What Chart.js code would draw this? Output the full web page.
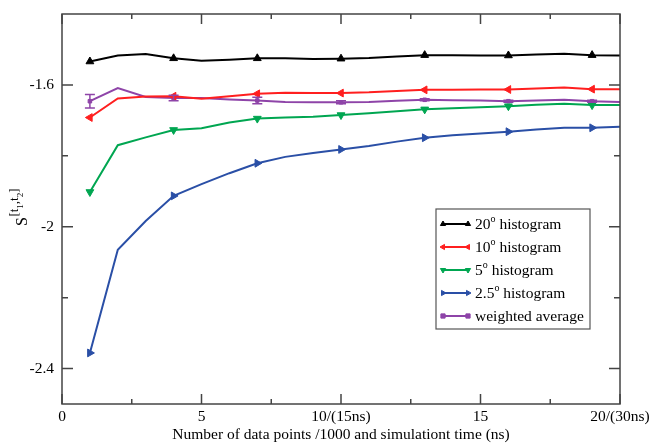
<!DOCTYPE html>
<html lang="en">
<head>
<meta charset="UTF-8">
<title>S[t1,t2] convergence</title>
<script src="https://cdn.jsdelivr.net/npm/chart.js"></script>
<style>
  body { margin: 0; background: #fff; }
</style>
</head>
<body>
<canvas id="convChart" width="651" height="444"></canvas>
<script>
// x = number of data points / 1000
const xValues = [1, 2, 3, 4, 5, 6, 7, 8, 9, 10, 11, 12, 13, 14, 15, 16, 17, 18, 19, 20];
const markerX = [1, 4, 7, 10, 13, 16, 19];

const hist20 = [-1.534, -1.517, -1.513, -1.525, -1.532, -1.529, -1.525, -1.525, -1.527, -1.526,
                -1.524, -1.520, -1.516, -1.516, -1.517, -1.517, -1.514, -1.512, -1.516, -1.517];
const hist10 = [-1.692, -1.638, -1.633, -1.632, -1.639, -1.632, -1.625, -1.622, -1.623, -1.623,
                -1.621, -1.617, -1.614, -1.614, -1.613, -1.613, -1.610, -1.607, -1.612, -1.612];
const hist5 = [-1.902, -1.770, -1.748, -1.727, -1.722, -1.706, -1.695, -1.692, -1.690, -1.685,
               -1.680, -1.674, -1.669, -1.666, -1.663, -1.660, -1.656, -1.653, -1.657, -1.657];
const hist25 = [-2.356, -2.065, -1.984, -1.913, -1.880, -1.849, -1.821, -1.803, -1.792, -1.782,
                -1.772, -1.760, -1.749, -1.742, -1.737, -1.732, -1.726, -1.721, -1.721, -1.718];
const weighted = [-1.646, -1.609, -1.634, -1.637, -1.637, -1.641, -1.644, -1.648, -1.649, -1.649,
                  -1.648, -1.645, -1.642, -1.643, -1.644, -1.646, -1.644, -1.642, -1.646, -1.648];
const weightedErr = [0.019, 0, 0, 0.008, 0, 0, 0.009, 0, 0, 0.004,
                     0, 0, 0.003, 0, 0, 0.003, 0, 0, 0.003, 0];

const xMajorTicks = [0, 5, 10, 15, 20];
const xMinorTicks = [2.5, 7.5, 12.5, 17.5];
const xTickLabels = ['0', '5', '10/(15ns)', '15', '20/(30ns)'];
const yMajorTicks = [-1.6, -2, -2.4];
const yMinorTicks = [-1.8, -2.2];
const yTickLabels = ['-1.6', '-2', '-2.4'];

const seriesNames = ['20', '10', '5', '2.5', 'weighted average'];
const seriesColors = ['#000000', '#ff1f1f', '#00a651', '#2a4fa6', '#8e44a8'];

const serif = '"Liberation Serif", "DejaVu Serif", serif';

function markerRadius(ctx) {
    return markerX.includes(xValues[ctx.dataIndex]) ? 4.5 : 0;
}

function makeSeries(values, color, style, rotation) {
    return {
        data: values.map((v, i) => ({ x: xValues[i], y: v })),
        borderColor: color,
        backgroundColor: color,
        borderWidth: 2,
        pointStyle: style,
        rotation: rotation,
        pointRadius: markerRadius,
        pointHoverRadius: markerRadius,
        pointBorderWidth: 1,
        tension: 0
    };
}

// frame with inward ticks on all four sides
const frameTicks = {
    id: 'frameTicks',
    afterDraw(chart) {
        const { ctx, chartArea: a, scales: { x, y } } = chart;
        ctx.save();
        ctx.strokeStyle = '#444';
        ctx.lineWidth = 1.5;
        ctx.strokeRect(a.left, a.top, a.right - a.left, a.bottom - a.top);
        ctx.beginPath();
        const xt = (v, len) => {
            const px = x.getPixelForValue(v);
            ctx.moveTo(px, a.bottom); ctx.lineTo(px, a.bottom - len);
            ctx.moveTo(px, a.top); ctx.lineTo(px, a.top + len);
        };
        const yt = (v, len) => {
            const py = y.getPixelForValue(v);
            ctx.moveTo(a.left, py); ctx.lineTo(a.left + len, py);
            ctx.moveTo(a.right, py); ctx.lineTo(a.right - len, py);
        };
        xMajorTicks.forEach(v => xt(v, 10));
        xMinorTicks.forEach(v => xt(v, 5));
        yMajorTicks.forEach(v => yt(v, 11));
        yMinorTicks.forEach(v => yt(v, 6));
        ctx.stroke();
        ctx.restore();
    }
};

// error bars on the weighted average
const errorBars = {
    id: 'errorBars',
    afterDatasetsDraw(chart) {
        const { ctx, scales: { x, y } } = chart;
        ctx.save();
        ctx.strokeStyle = seriesColors[4];
        ctx.lineWidth = 1.5;
        ctx.beginPath();
        weightedErr.forEach((e, i) => {
            if (!e) return;
            const px = x.getPixelForValue(xValues[i]);
            const y1 = y.getPixelForValue(weighted[i] + e);
            const y2 = y.getPixelForValue(weighted[i] - e);
            ctx.moveTo(px, y1); ctx.lineTo(px, y2);
            ctx.moveTo(px - 5, y1); ctx.lineTo(px + 5, y1);
            ctx.moveTo(px - 5, y2); ctx.lineTo(px + 5, y2);
        });
        ctx.stroke();
        ctx.restore();
    }
};

function drawMarker(ctx, style, rot, cx, cy, color) {
    ctx.save();
    ctx.fillStyle = color;
    ctx.strokeStyle = color;
    ctx.lineWidth = 1;
    Chart.helpers.drawPoint(ctx, { pointStyle: style, rotation: rot, radius: 3, borderWidth: 1 }, cx, cy);
    ctx.restore();
}

// boxed legend with superscript degree marks
const boxLegend = {
    id: 'boxLegend',
    afterDraw(chart) {
        const ctx = chart.ctx;
        const bx = 436, by = 209, bw = 154, bh = 120;
        ctx.save();
        ctx.fillStyle = '#fff';
        ctx.fillRect(bx, by, bw, bh);
        ctx.strokeStyle = '#555';
        ctx.lineWidth = 1.2;
        ctx.strokeRect(bx, by, bw, bh);
        ctx.textBaseline = 'alphabetic';
        chart.data.datasets.forEach((ds, i) => {
            const cy = by + 15 + i * 23;
            ctx.strokeStyle = ds.borderColor;
            ctx.lineWidth = 2;
            ctx.beginPath();
            ctx.moveTo(442, cy); ctx.lineTo(469, cy);
            ctx.stroke();
            if (i < 4) {
                drawMarker(ctx, ds.pointStyle, ds.rotation, 443, cy, ds.borderColor);
                drawMarker(ctx, ds.pointStyle, ds.rotation, 468, cy, ds.borderColor);
            } else {
                drawMarker(ctx, 'rect', 0, 443, cy, ds.borderColor);
                drawMarker(ctx, 'rect', 0, 468, cy, ds.borderColor);
            }
            ctx.fillStyle = '#000';
            const base = cy + 5;
            let tx = 475;
            if (i < 4) {
                ctx.font = '15.5px ' + serif;
                ctx.fillText(seriesNames[i], tx, base);
                tx += ctx.measureText(seriesNames[i]).width;
                ctx.font = '10px ' + serif;
                ctx.fillText('o', tx, base - 7);
                tx += ctx.measureText('o').width;
                ctx.font = '15.5px ' + serif;
                ctx.fillText(' histogram', tx, base);
            } else {
                ctx.font = '15.5px ' + serif;
                ctx.fillText(seriesNames[i], tx, base);
            }
        });
        ctx.restore();
    }
};

// rotated y title S^[t1,t2]
const yTitle = {
    id: 'yTitle',
    afterDraw(chart) {
        const ctx = chart.ctx;
        ctx.save();
        ctx.translate(27, 226);
        ctx.rotate(-Math.PI / 2);
        ctx.fillStyle = '#000';
        ctx.textBaseline = 'alphabetic';
        ctx.font = '16px ' + serif;
        ctx.fillText('S', 0, 0);
        let tx = ctx.measureText('S').width + 0.5;
        const parts = [['[t', 0], ['1', 1], [',t', 0], ['2', 1], [']', 0]];
        parts.forEach(([t, sub]) => {
            ctx.font = (sub ? '9px ' : '13px ') + serif;
            ctx.fillText(t, tx, sub ? -4 : -9);
            tx += ctx.measureText(t).width;
        });
        ctx.restore();
    }
};

const tickFont = { family: serif, size: 15.5 };

new Chart(document.getElementById('convChart').getContext('2d'), {
    type: 'line',
    data: {
        datasets: [
            makeSeries(hist20, seriesColors[0], 'triangle', 0),
            makeSeries(hist10, seriesColors[1], 'triangle', -90),
            makeSeries(hist5, seriesColors[2], 'triangle', 180),
            makeSeries(hist25, seriesColors[3], 'triangle', 90),
            Object.assign(makeSeries(weighted, seriesColors[4], 'rect', 0), {
                pointRadius: ctx => markerX.includes(xValues[ctx.dataIndex]) ? 2.5 : 0
            })
        ]
    },
    options: {
        responsive: false,
        animation: false,
        devicePixelRatio: 1,
        layout: { padding: { top: 14, right: 31, bottom: 0, left: 0 } },
        plugins: {
            legend: { display: false },
            tooltip: { enabled: false }
        },
        scales: {
            x: {
                type: 'linear',
                min: 0,
                max: 20,
                afterBuildTicks: s => { s.ticks = xMajorTicks.map(v => ({ value: v })); },
                afterFit: s => { s.height = 40; s.paddingLeft = 0; s.paddingRight = 0; },
                grid: { display: false, drawTicks: false, tickLength: 0 },
                border: { display: false },
                ticks: {
                    callback: v => xTickLabels[xMajorTicks.indexOf(v)],
                    font: tickFont,
                    color: '#000',
                    padding: 4,
                    maxRotation: 0,
                    autoSkip: false
                },
                title: {
                    display: true,
                    text: 'Number of data points /1000 and simulationt time (ns)',
                    font: tickFont,
                    color: '#000',
                    padding: { top: 0, bottom: 0 }
                }
            },
            y: {
                type: 'linear',
                min: -2.5,
                max: -1.4,
                afterBuildTicks: s => { s.ticks = yMajorTicks.map(v => ({ value: v })); },
                afterFit: s => { s.width = 62; s.paddingTop = 0; s.paddingBottom = 0; },
                grid: { display: false, drawTicks: false, tickLength: 0 },
                border: { display: false },
                ticks: {
                    callback: v => yTickLabels[yMajorTicks.indexOf(v)],
                    font: tickFont,
                    color: '#000',
                    padding: 8,
                    autoSkip: false
                }
            }
        }
    },
    plugins: [frameTicks, errorBars, boxLegend, yTitle]
});
</script>
</body>
</html>
